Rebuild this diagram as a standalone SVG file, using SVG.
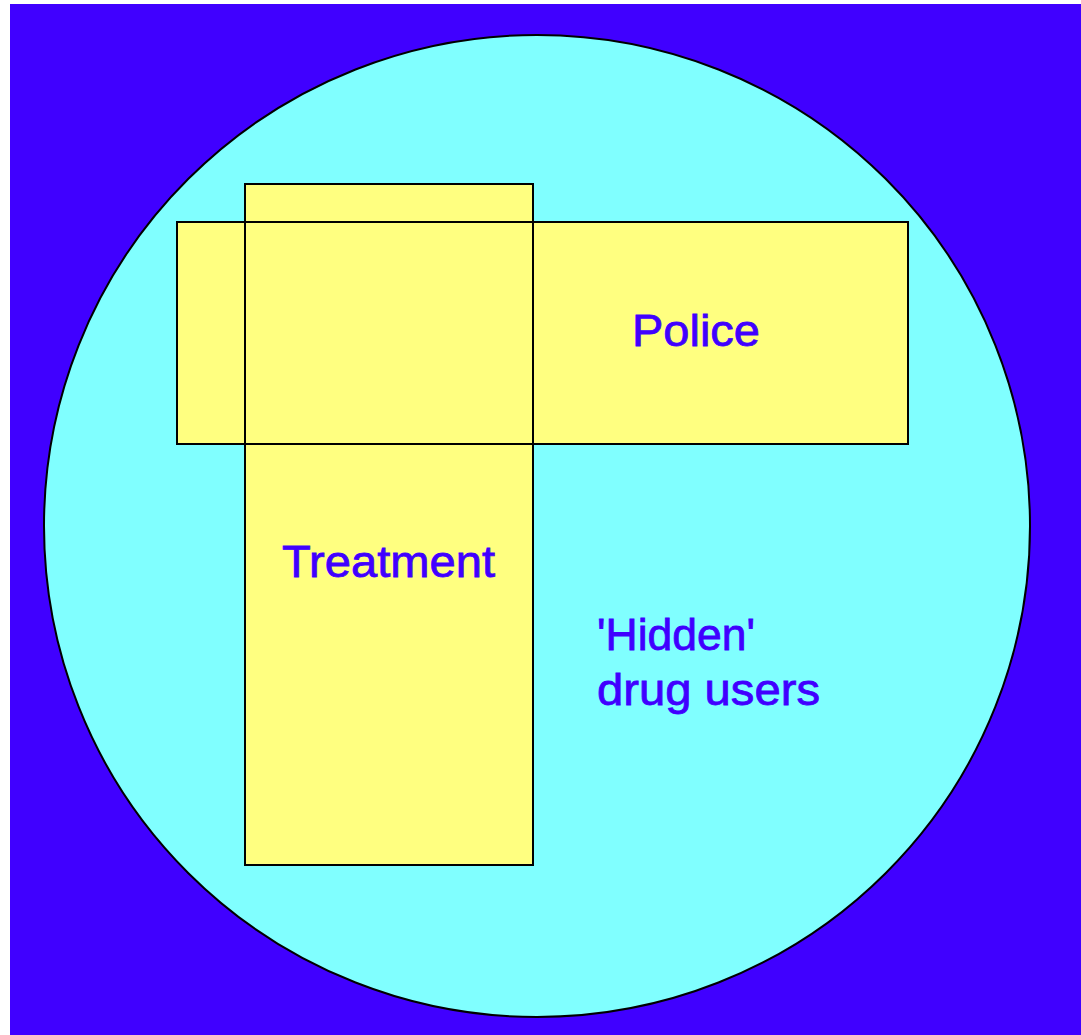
<svg xmlns="http://www.w3.org/2000/svg" width="1081" height="1035" viewBox="0 0 1081 1035">
<style>
.box{fill:#FFFF80;stroke:none}
.outline{fill:none;stroke:#000;stroke-width:2}
.lbl{font-family:"Liberation Sans",Arial,sans-serif;font-size:45px;fill:#4000FF;stroke:#4000FF;stroke-width:0.8}
</style>
<rect x="0" y="0" width="1081" height="1035" fill="#fff"/>
<rect x="10" y="4" width="1071" height="1031" fill="#4000FF"/>
<g id="population">
<ellipse cx="537" cy="526" rx="493" ry="491" fill="#80FFFF" stroke="#000" stroke-width="2"/>
<text class="lbl" x="597" y="650" textLength="158" lengthAdjust="spacingAndGlyphs">'Hidden'</text>
<text class="lbl" x="597" y="705" textLength="223" lengthAdjust="spacingAndGlyphs">drug users</text>
</g>
<g id="treatment">
<rect class="box" x="245" y="184" width="288" height="681"/>
</g>
<g id="police">
<rect class="box" x="177" y="222" width="731" height="222"/>
</g>
<g id="outlines">
<rect class="outline" x="245" y="184" width="288" height="681"/>
<rect class="outline" x="177" y="222" width="731" height="222"/>
</g>
<text class="lbl" x="632" y="346" textLength="128" lengthAdjust="spacingAndGlyphs">Police</text>
<text class="lbl" x="282" y="577" textLength="213" lengthAdjust="spacingAndGlyphs">Treatment</text>
</svg>
